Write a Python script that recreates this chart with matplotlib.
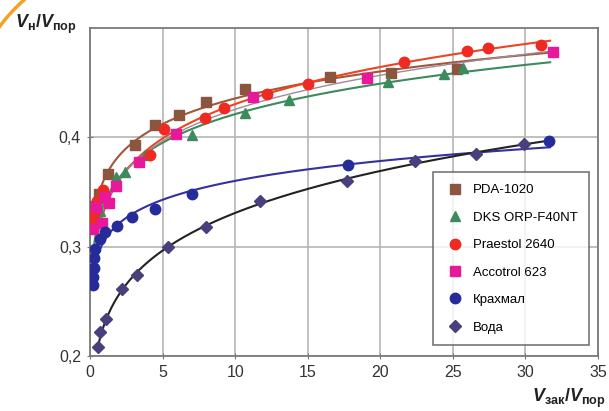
import numpy as np
import matplotlib
matplotlib.use("Agg")
import matplotlib.pyplot as plt
from matplotlib.patches import Arc
from matplotlib.transforms import IdentityTransform

plt.rcParams['font.family'] = ['Liberation Sans', 'DejaVu Sans']
plt.rcParams['mathtext.fontset'] = 'custom'
plt.rcParams['mathtext.it'] = 'Liberation Sans:italic:bold'
plt.rcParams['mathtext.rm'] = 'Liberation Sans:bold'

# данные
pda_x = [0.15, 0.64, 1.2, 3.1, 4.5, 6.1, 8.0, 10.7, 16.5, 20.7, 25.3]
pda_y = [0.337, 0.348, 0.366, 0.393, 0.411, 0.420, 0.432, 0.444, 0.455, 0.459, 0.462]

dks_x = [0.1, 0.7, 1.8, 2.4, 3.8, 7.0, 10.7, 13.7, 20.5, 24.4, 25.7]
dks_y = [0.319, 0.333, 0.364, 0.368, 0.384, 0.402, 0.422, 0.434, 0.451, 0.458, 0.463]

praestol_x = [0.2, 0.3, 0.5, 0.9, 4.1, 5.1, 7.9, 9.2, 12.2, 15.0, 21.6, 26.0, 27.4, 31.1]
praestol_y = [0.325, 0.331, 0.342, 0.352, 0.384, 0.408, 0.418, 0.427, 0.440, 0.449,
              0.469, 0.479, 0.482, 0.484]

accotrol_x = [0.18, 0.4, 0.85, 1.0, 1.3, 1.8, 3.4, 5.95, 11.2, 19.1, 31.9]
accotrol_y = [0.316, 0.336, 0.322, 0.345, 0.340, 0.355, 0.377, 0.403, 0.437, 0.454, 0.478]

starch_x = [0.2, 0.22, 0.25, 0.3, 0.35, 0.69, 1.03, 1.83, 2.86, 4.46, 7.0, 17.8, 31.6]
starch_y = [0.265, 0.272, 0.280, 0.290, 0.298, 0.307, 0.313, 0.319, 0.327, 0.334,
            0.348, 0.375, 0.397]

water_x = [0.53, 0.69, 1.1, 2.2, 3.2, 5.4, 7.96, 11.7, 17.7, 22.4, 26.6, 29.9]
water_y = [0.208, 0.222, 0.234, 0.261, 0.274, 0.300, 0.318, 0.342, 0.360, 0.378,
           0.385, 0.394]

# подпись, x, y, маркер, цвет маркера, цвет линии тренда, размер
series = [
    ('PDA-1020', pda_x, pda_y, 's', '#8b5540', '#a0583a', 7.5),
    ('DKS ORP-F40NT', dks_x, dks_y, '^', '#3d8a5c', '#3d8a5c', 7.5),
    ('Praestol 2640', praestol_x, praestol_y, 'o', '#ee2a22', '#ee4422', 7.5),
    ('Accotrol 623', accotrol_x, accotrol_y, 's', '#e8189a', '#a08a98', 7.5),
    ('Крахмал', starch_x, starch_y, 'o', '#262b9a', '#34309e', 7.5),
    ('Вода', water_x, water_y, 'D', '#4a3f7c', '#222222', 6),
]
trend_x_end = 31.7
fit_from = 1.0   # тренд строим по точкам с x >= 1

fig = plt.figure(figsize=(6.09, 4.11), dpi=100)
ax = fig.add_axes([0.148, 0.134, 0.834, 0.798])

for name, xs, ys, mk, mc, lc, ms in series:
    xs = np.array(xs)
    ys = np.array(ys)
    ax.plot(xs, ys, linestyle='none', marker=mk, color=mc, markersize=ms,
            label=name, zorder=3)
    # степенная линия тренда
    sel = xs >= fit_from
    b, lna = np.polyfit(np.log(xs[sel]), np.log(ys[sel]), 1)
    xx = np.linspace(xs.min(), trend_x_end, 300)
    lw = 1.0 if name == 'Accotrol 623' else 1.5
    ax.plot(xx, np.exp(lna) * xx ** b, color=lc, linewidth=lw, zorder=2)

ax.set_xlim(0, 35)
ax.set_ylim(0.2, 0.5)
ax.set_xticks(range(0, 36, 5))
ax.set_yticks([0.2, 0.3, 0.4])
ax.set_yticklabels(['0,2', '0,3', '0,4'])
ax.grid(True, color='#b5b5b5', linewidth=1.2)
ax.set_axisbelow(True)
for s in ax.spines.values():
    s.set_color('#7a7a7a')
    s.set_linewidth(1.3)
ax.tick_params(direction='inout', length=5, color='#7a7a7a', labelsize=11.5,
               labelcolor='#333333', pad=4)

leg = ax.legend(loc='lower right', bbox_to_anchor=(0.996, 0.012), fontsize=9.5,
                frameon=True, fancybox=False, edgecolor='#555555',
                handletextpad=0.6, labelspacing=1.15, borderpad=0.9,
                handlelength=1.5)
leg.get_frame().set_linewidth(1.2)

fig.text(0.025, 0.932, r'$\mathit{V}_{\mathrm{н}}/\mathit{V}_{\mathrm{пор}}$',
         fontsize=13, ha='left', va='baseline', color='#222222')
fig.text(0.995, 0.022, r'$\mathit{V}_{\mathrm{зак}}/\mathit{V}_{\mathrm{пор}}$',
         fontsize=13, ha='right', va='baseline', color='#222222')

# оранжевая дуга в углу
fig.add_artist(Arc((140, 280), 350, 350, theta1=125, theta2=150,
                   transform=IdentityTransform(), color='#f5a028', linewidth=2.5))

fig.savefig('out.png', dpi=100)
